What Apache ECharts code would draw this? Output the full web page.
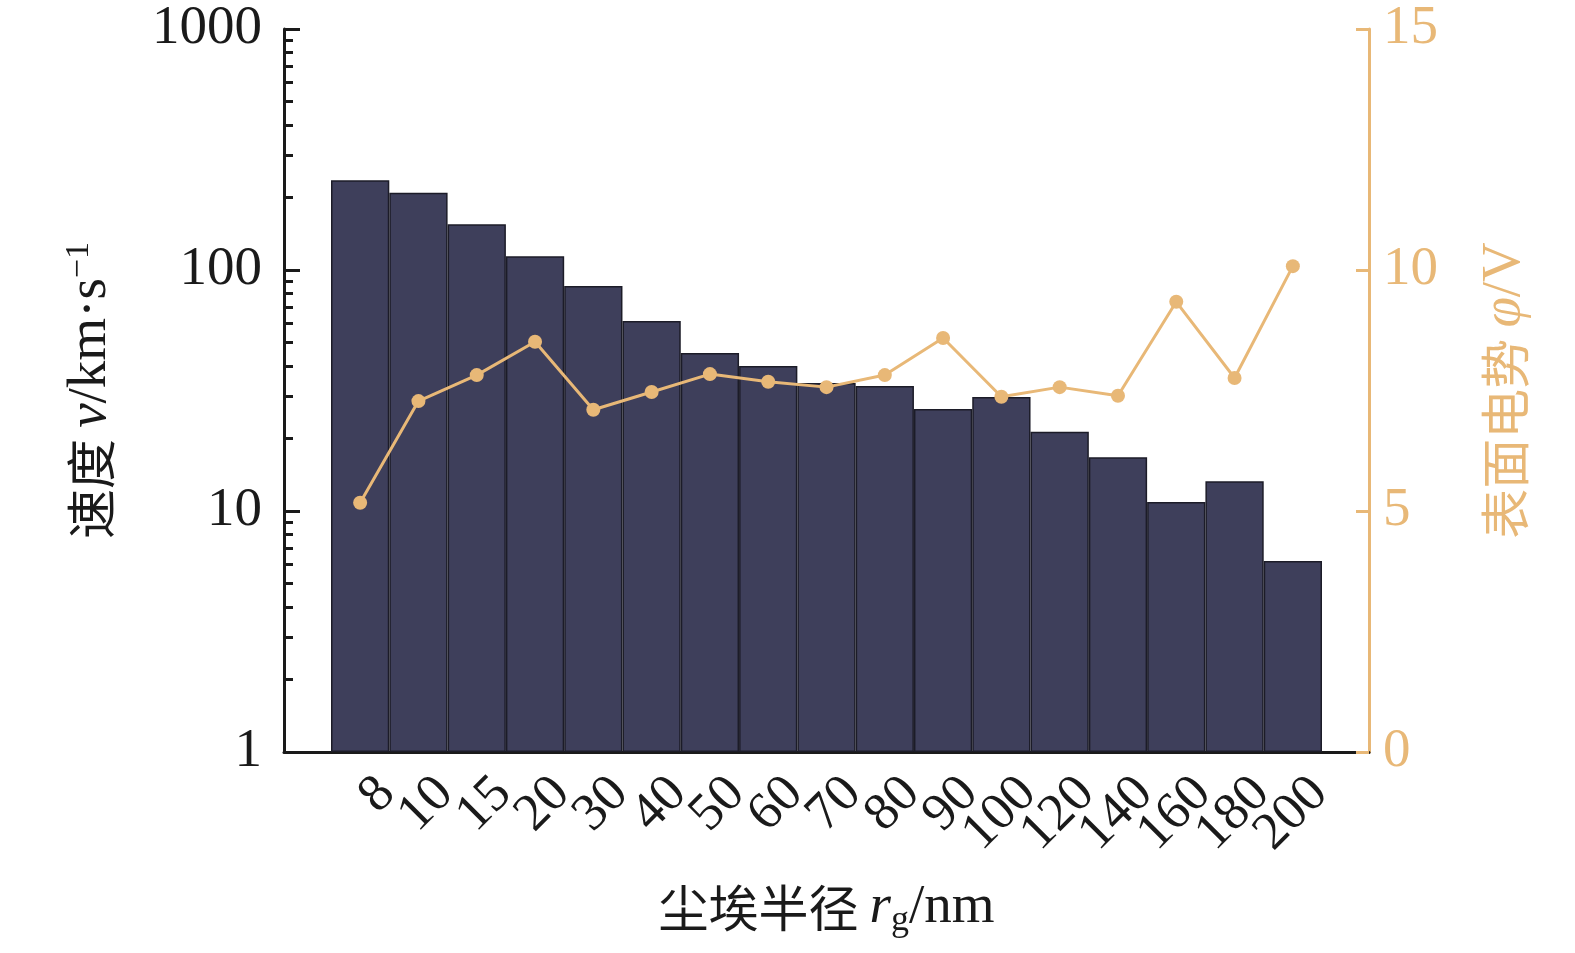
<!DOCTYPE html>
<html>
<head>
<meta charset="utf-8">
<script src="https://cdn.jsdelivr.net/npm/echarts@6/dist/echarts.min.js"></script>
<style>
  html, body { margin: 0; padding: 0; background: #fff; }
  #chart { width: 1575px; height: 953px; }
</style>
</head>
<body>
<div id="chart"></div>
<script>
const radius = ['8', '10', '15', '20', '30', '40', '50', '60', '70', '80', '90', '100', '120', '140', '160', '180', '200'];
const speed = [236, 209, 155, 114, 85.9, 61.4, 45.3, 40.0, 34.0, 33.0, 26.5, 29.7, 21.3, 16.7, 10.9, 13.3, 6.2];
const potential = [5.17, 7.28, 7.82, 8.51, 7.10, 7.47, 7.84, 7.68, 7.57, 7.82, 8.59, 7.37, 7.57, 7.39, 9.34, 7.76, 10.08];
const minorTicks = [2, 3, 4, 5, 6, 7, 8, 9, 20, 30, 40, 50, 60, 70, 80, 90, 200, 300, 400, 500, 600, 700, 800, 900];

const serif = '"Liberation Serif", "Times New Roman", serif';
const cjk = '"Noto Sans CJK SC", "Liberation Serif", serif';
const gold = '#e8b877';
const ink = '#1a1a1a';

const chart = echarts.init(document.getElementById('chart'));

const option = {
  backgroundColor: '#fff',
  animation: false,
  grid: [
    { left: 284, right: 206, top: 29, bottom: 201 },
    { left: 331, right: 253, top: 29, bottom: 201 },
    // labels sit a little right of the bar centres in the original
    { left: 339, right: 245, top: 29, bottom: 201 }
  ],
  xAxis: [
    {
      gridIndex: 0,
      type: 'value',
      min: 0,
      max: 1,
      axisLine: { show: true, lineStyle: { color: ink, width: 3 } },
      axisTick: { show: false },
      axisLabel: { show: false },
      splitLine: { show: false },
      name: '{cn|尘埃半径 }{it|r}{sub|g}{t|/nm}',
      nameLocation: 'middle',
      nameGap: 125,
      nameTextStyle: {
        rich: {
          cn: { fontFamily: cjk, fontSize: 50, color: ink },
          it: { fontFamily: serif, fontStyle: 'italic', fontSize: 55, color: ink },
          sub: { fontFamily: serif, fontSize: 36, color: ink, verticalAlign: 'bottom', padding: [26, 0, 0, 0] },
          t: { fontFamily: serif, fontSize: 55, color: ink }
        }
      }
    },
    {
      gridIndex: 1,
      type: 'category',
      data: radius,
      show: false
    },
    {
      gridIndex: 2,
      type: 'category',
      data: radius,
      axisLine: { show: false },
      axisTick: { show: false },
      axisLabel: {
        rotate: 45,
        margin: 15,
        align: 'right',
        verticalAlign: 'top',
        fontFamily: serif,
        fontSize: 53,
        color: ink,
        interval: 0
      },
      splitLine: { show: false }
    }
  ],
  yAxis: [
    {
      gridIndex: 0,
      type: 'log',
      logBase: 10,
      min: 1,
      max: 1000,
      position: 'left',
      axisLine: { show: true, lineStyle: { color: ink, width: 3 } },
      axisTick: { show: true, inside: true, length: 16, lineStyle: { color: ink, width: 3 } },
      axisLabel: { fontFamily: serif, fontSize: 55, color: ink, margin: 22, formatter: v => String(v) },
      splitLine: { show: false },
      name: '{cn|速度 }{it|v}{t|/km·s}{sup|−1}',
      nameLocation: 'middle',
      nameRotate: 90,
      nameGap: 164,
      nameTextStyle: {
        rich: {
          cn: { fontFamily: cjk, fontSize: 50, color: ink },
          it: { fontFamily: serif, fontStyle: 'italic', fontSize: 55, color: ink },
          t: { fontFamily: serif, fontSize: 55, color: ink },
          sup: { fontFamily: serif, fontSize: 34, color: ink, verticalAlign: 'top', padding: [0, 0, 24, 0] }
        }
      }
    },
    {
      gridIndex: 0,
      type: 'value',
      min: 0,
      max: 15,
      interval: 5,
      position: 'right',
      axisLine: { show: true, lineStyle: { color: gold, width: 3 } },
      axisTick: { show: true, inside: true, length: 13, lineStyle: { color: gold, width: 3 } },
      axisLabel: { fontFamily: serif, fontSize: 55, color: gold, margin: 14 },
      splitLine: { show: false },
      name: '{cn|表面电势 }{it|φ}{t|/V}',
      nameLocation: 'middle',
      nameRotate: 90,
      nameGap: 108,
      nameTextStyle: {
        rich: {
          cn: { fontFamily: cjk, fontSize: 50, color: gold },
          it: { fontFamily: serif, fontStyle: 'italic', fontSize: 55, color: gold },
          t: { fontFamily: serif, fontSize: 55, color: gold }
        }
      }
    },
    {
      gridIndex: 1,
      type: 'log',
      logBase: 10,
      min: 1,
      max: 1000,
      show: false
    },
    {
      gridIndex: 1,
      type: 'value',
      min: 0,
      max: 15,
      interval: 5,
      show: false
    },
    {
      // minor log ticks on the left axis
      gridIndex: 0,
      type: 'log',
      logBase: 10,
      min: 1,
      max: 1000,
      position: 'left',
      axisLine: { show: false },
      axisTick: { show: true, inside: true, length: 9, customValues: minorTicks, lineStyle: { color: ink, width: 3 } },
      axisLabel: { show: false },
      splitLine: { show: false }
    },
    {
      gridIndex: 2,
      type: 'value',
      show: false
    }
  ],
  series: [
    {
      name: 'speed',
      type: 'bar',
      xAxisIndex: 1,
      yAxisIndex: 2,
      data: speed,
      barCategoryGap: '0%',
      itemStyle: { color: '#3e3f5b', borderColor: '#1c1c28', borderWidth: 1.5 }
    },
    {
      name: 'potential',
      type: 'line',
      xAxisIndex: 1,
      yAxisIndex: 3,
      data: potential,
      symbol: 'circle',
      symbolSize: 14,
      lineStyle: { color: gold, width: 3 },
      itemStyle: { color: gold }
    }
  ]
};

chart.setOption(option);
</script>
</body>
</html>
